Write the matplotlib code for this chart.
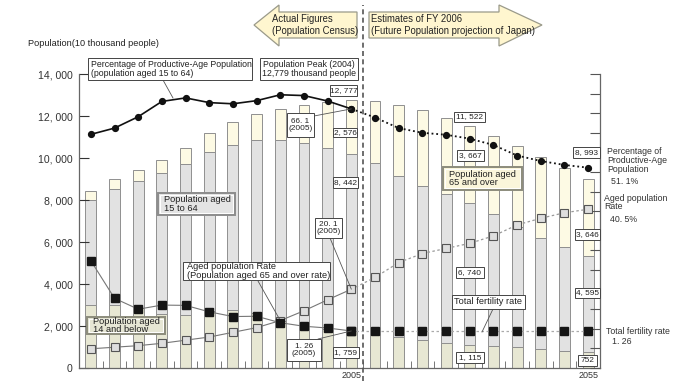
import numpy as np
import matplotlib
matplotlib.use("Agg")
import matplotlib.pyplot as plt
from matplotlib import font_manager
from matplotlib.patches import Polygon, Rectangle
from matplotlib.lines import Line2D

# population by age group (10 thousand people)
years = [1950, 1955, 1960, 1965, 1970, 1975, 1980, 1985, 1990, 1995, 2000, 2005,
         2010, 2015, 2020, 2025, 2030, 2035, 2040, 2045, 2050, 2055]
pop_0_14 = [2979, 3012, 2843, 2553, 2515, 2722, 2751, 2603, 2249, 2001, 1847, 1759,
            1648, 1484, 1324, 1195, 1115, 1051, 990, 885, 821, 752]
pop_15_64 = [5017, 5517, 6047, 6744, 7212, 7581, 7883, 8251, 8590, 8716, 8622, 8442,
             8128, 7681, 7363, 7096, 6740, 6292, 5727, 5303, 4930, 4595]
pop_65 = [416, 479, 540, 624, 739, 887, 1065, 1247, 1493, 1828, 2204, 2576,
          2941, 3378, 3590, 3635, 3667, 3725, 3853, 3856, 3764, 3646]
total = [8411, 9008, 9430, 9921, 10467, 11194, 11706, 12105, 12361, 12557, 12693, 12777,
         12718, 12543, 12274, 11927, 11522, 11068, 10570, 10044, 9515, 8993]

# rates (%)
prod_rate = [59.6, 61.2, 64.1, 68.0, 68.9, 67.7, 67.4, 68.2, 69.7, 69.5, 68.1, 66.1,
             63.9, 61.2, 60.0, 59.5, 58.5, 56.9, 54.2, 52.8, 51.8, 51.1]
aged_rate = [4.9, 5.3, 5.7, 6.3, 7.1, 7.9, 9.1, 10.3, 12.1, 14.6, 17.4, 20.1,
             23.1, 26.9, 29.2, 30.5, 31.8, 33.7, 36.5, 38.2, 39.6, 40.5]
fertility = [3.65, 2.37, 2.00, 2.14, 2.13, 1.91, 1.75, 1.76, 1.54, 1.42, 1.36, 1.26,
             1.26, 1.26, 1.26, 1.26, 1.26, 1.26, 1.26, 1.26, 1.26, 1.26]

x_labels = [2005, 2055]
n_actual = 12  # 1950..2005 are census figures

names = {f.name for f in font_manager.fontManager.ttflist}
if "Liberation Sans Narrow" in names:
    fam, k = "Liberation Sans Narrow", 1.0
else:
    fam, k = "Liberation Sans", 0.88
plt.rcParams["font.family"] = fam

W, H = 678, 381


def fxy(px, py):
    return px / W, 1 - py / H


def fmt(v):
    return f"{v:,}".replace(",", ", ")


def fmt_dec(v, nd=1):
    return f"{v:.{nd}f}".replace(".", ". ")


fig = plt.figure(figsize=(W / 100, H / 100), dpi=100)
ax = fig.add_axes([79 / W, 13 / H, 521 / W, 294 / H])

c_young, c_work, c_old = "#e7e7d3", "#e2e2e2", "#fdfae4"
edge = "#8f8f8f"
yrs = np.array(years)
b1 = np.array(pop_0_14)
b2 = b1 + np.array(pop_15_64)
ax.bar(yrs, pop_0_14, width=2.3, color=c_young, edgecolor=edge, lw=0.7)
ax.bar(yrs, pop_15_64, width=2.3, bottom=b1, color=c_work, edgecolor=edge, lw=0.7)
ax.bar(yrs, pop_65, width=2.3, bottom=b2, color=c_old, edgecolor=edge, lw=0.7)

ax.set_xlim(1947.5, 2057.5)
ax.set_ylim(0, 14000)
ax.set_yticks(range(0, 14001, 2000))
ax.set_yticklabels([fmt(v) for v in range(0, 14001, 2000)])
ax.set_xticks(x_labels)
ax.set_xticklabels([str(v) for v in x_labels])
ax.set_xticks([y + 2.5 for y in years[:-1]], minor=True)
ax.tick_params(axis="y", direction="in", length=7, width=0.8, pad=4.5,
               labelsize=8.6 * k, colors="#333")
ax.tick_params(axis="x", which="major", length=0, pad=2, labelsize=7.4 * k, colors="#333")
ax.tick_params(axis="x", which="minor", direction="in", length=5, width=0.7, color="#777")
for s in ["top", "right"]:
    ax.spines[s].set_visible(False)
for s in ["left", "bottom"]:
    ax.spines[s].set_color("#666")
    ax.spines[s].set_linewidth(0.9)

# right axis for the percentages
ax2 = ax.twinx()
ax2.set_ylim(0, 75)
ax2.set_yticks(range(0, 76, 5))
ax2.set_yticklabels([])
ax2.tick_params(axis="y", direction="in", length=7, width=0.8, color="#555")
for s in ["top", "left", "bottom"]:
    ax2.spines[s].set_visible(False)
ax2.spines["right"].set_color("#666")
ax2.spines["right"].set_linewidth(0.9)

# fertility rate scale (hidden)
ax3 = ax.twinx()
ax3.set_ylim(0, 10)
ax3.axis("off")

a = n_actual
ax2.plot(years[:a], prod_rate[:a], color="#111", lw=1.2, marker="o", ms=4.2)
ax2.plot(years[a - 1:], prod_rate[a - 1:], color="#111", lw=1.3, ls=(0, (1, 1.6)),
         marker="o", ms=4.2)
ax2.plot(years[:a], aged_rate[:a], color="#777", lw=0.8, marker="s", ms=6,
         mfc="#dedede", mec="#555", mew=0.8)
ax2.plot(years[a - 1:], aged_rate[a - 1:], color="#999", lw=0.9, ls=(0, (2, 2)),
         marker="s", ms=6, mfc="#dedede", mec="#555", mew=0.8)
ax3.plot(years[:a], fertility[:a], color="#777", lw=0.8, marker="s", ms=6.2,
         mfc="#151515", mec="#151515")
ax3.plot(years[a - 1:], fertility[a - 1:], color="#aaa", lw=0.9, ls=(0, (2, 2)),
         marker="s", ms=6.2, mfc="#151515", mec="#151515")

# dashed split between census and projections
fig.add_artist(Line2D([363 / W, 363 / W], [0, 1 - 5 / H], transform=fig.transFigure,
                      color="#555", lw=1.2, ls=(0, (3, 2))))

# arrows at the top
arrow_l = [(254, 25), (279, 5), (279, 12), (357, 12), (357, 38), (279, 38), (279, 46)]
arrow_r = [(369, 12), (499, 12), (499, 5), (542, 25), (499, 46), (499, 38), (369, 38)]
for pts in (arrow_l, arrow_r):
    fig.add_artist(Polygon([fxy(*p) for p in pts], closed=True, transform=fig.transFigure,
                           fc="#fff6cf", ec="#9a9a8a", lw=0.9))
fig.text(*fxy(272, 25), "Actual Figures\n(Population Census)", ha="left", va="center",
         fontsize=7.8 * k, color="#222", linespacing=1.15)
fig.text(*fxy(371, 25), "Estimates of FY 2006\n(Future Population projection of Japan)",
         ha="left", va="center", fontsize=7.8 * k, color="#222", linespacing=1.15)

fig.text(*fxy(28, 44), "Population(10 thousand people)", ha="left", va="center",
         fontsize=7.5 * k, color="#222")


def box(x0, y0, x1, y1, text, ha="center", tx=None, fs=6.8, fc="white", ec="#444",
        lw=0.7, double=False):
    fig.add_artist(Rectangle(fxy(x0, y1), (x1 - x0) / W, (y1 - y0) / H,
                             transform=fig.transFigure, fc=fc, ec=ec, lw=lw, zorder=3))
    if double:
        fig.add_artist(Rectangle(fxy(x0 + 2, y1 - 2), (x1 - x0 - 4) / W, (y1 - y0 - 4) / H,
                                 transform=fig.transFigure, fc="none", ec="white",
                                 lw=0.7, zorder=3))
    if tx is None:
        tx = (x0 + x1) / 2
    fig.text(*fxy(tx, (y0 + y1) / 2), text, ha=ha, va="center", fontsize=fs * k,
             color="#222", linespacing=0.95, zorder=4)


def leader(p0, p1=None, data=None, axis=None):
    if data is not None:
        axis.annotate("", xy=data, xytext=fxy(*p0), textcoords="figure fraction",
                      arrowprops=dict(arrowstyle="-", color="#555", lw=0.6,
                                      shrinkA=0, shrinkB=0))
    else:
        fig.add_artist(Line2D([p0[0] / W, p1[0] / W], [1 - p0[1] / H, 1 - p1[1] / H],
                              transform=fig.transFigure, color="#555", lw=0.6))


i05, i30, i55 = years.index(2005), years.index(2030), years.index(2055)

# top notes
leader((163, 80), (173, 98))
box(88, 58, 252, 80, "Percentage of Productive-Age Population\n(population aged 15 to 64)",
    ha="left", tx=91, fs=7.2)
box(260, 58, 358, 80, "Population Peak (2004)\n12,779 thousand people", fs=7.2)

# 2005 values
box(330, 85, 357, 96, fmt(total[i05]))
box(333, 128, 357, 137, fmt(pop_65[i05]))
box(333, 177, 358, 188, fmt(pop_15_64[i05]))
box(333, 347, 359, 358, fmt(pop_0_14[i05]))
leader((314, 116), data=(2005, prod_rate[i05]), axis=ax2)
box(287, 113, 314, 137, fmt_dec(prod_rate[i05]) + "\n(2005)")
leader((330, 238), data=(2005, aged_rate[i05]), axis=ax2)
box(315, 218, 342, 238, fmt_dec(aged_rate[i05]) + "\n(2005)")
leader((318, 339), data=(2005, fertility[i05]), axis=ax3)
box(287, 339, 321, 361, fmt_dec(fertility[i05], 2) + "\n(2005)")

# 2030 values
box(454, 112, 485, 122, fmt(total[i30]))
box(457, 150, 484, 161, fmt(pop_65[i30]))
box(456, 267, 484, 278, fmt(pop_15_64[i30]))
box(456, 352, 484, 363, fmt(pop_0_14[i30]))

# 2055 values
box(573, 147, 600, 158, fmt(total[i55]))
box(575, 229, 600, 240, fmt(pop_65[i55]))
box(575, 288, 600, 298, fmt(pop_15_64[i55]))
box(578, 355, 597, 366, fmt(pop_0_14[i55]))

# group labels
box(158, 193, 235, 215, "Population aged\n15 to 64", ha="left", tx=164, fs=7.6,
    fc="#e4e4e4", ec="#8c8c8c", lw=1.4, double=True)
box(87, 317, 165, 334, "Population aged\n14 and below", ha="left", tx=93, fs=7.6,
    fc="#e6e6d4", ec="#8c8c7c", lw=1.4, double=True)
box(443, 167, 522, 190, "Population aged\n65 and over", ha="left", tx=449, fs=7.6,
    fc="#faf5da", ec="#8c8c7c", lw=1.4, double=True)

leader((258, 281), data=(1990, aged_rate[years.index(1990)]), axis=ax2)
box(183, 262, 330, 280, "Aged population Rate\n(Population aged 65 and over rate)",
    ha="left", tx=187, fs=7.6)
leader((493, 309), (482, 332))
box(452, 295, 525, 309, "Total fertility rate", fs=7.6)

# right side notes
fig.text(*fxy(607, 147), "Percentage of\nProductive-Age\nPopulation", ha="left", va="top",
         fontsize=7.2 * k, color="#333", linespacing=1.0)
fig.text(*fxy(611, 181), fmt_dec(prod_rate[-1]) + "%", ha="left", va="center",
         fontsize=7.2 * k, color="#333")
fig.text(*fxy(604, 194), "Aged population\nRate", ha="left", va="top",
         fontsize=7.2 * k, color="#333", linespacing=0.85)
fig.text(*fxy(610, 219), fmt_dec(aged_rate[-1]) + "%", ha="left", va="center",
         fontsize=7.2 * k, color="#333")
fig.text(*fxy(606, 331), "Total fertility rate", ha="left", va="center",
         fontsize=7.2 * k, color="#333")
fig.text(*fxy(612, 342), fmt_dec(fertility[-1], 2), ha="left", va="center",
         fontsize=7.2 * k, color="#333")

fig.savefig("out.png", dpi=100)
